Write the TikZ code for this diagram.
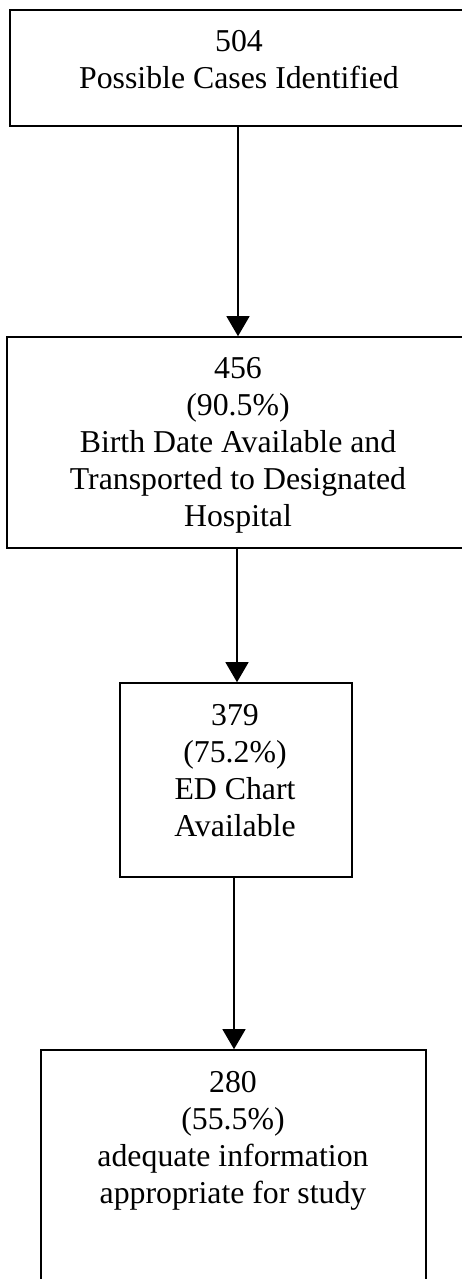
\documentclass[tikz,border=0pt]{standalone}
\usepackage{fontspec}
\setmainfont{Liberation Serif}
\usetikzlibrary{arrows.meta}
\tikzset{
  box/.style={draw, line width=1.6pt, rectangle, inner sep=0pt},
  txt/.style={align=center, inner sep=0pt, anchor=base, font=\fontsize{31.8pt}{37pt}\selectfont},
  flow/.style={line width=1.3pt, -{Triangle[length=20pt,width=23pt]}}
}
\begin{document}
\begin{tikzpicture}[x=1pt,y=-1pt]
\useasboundingbox (0,0) rectangle (461,1279);
\fill[white] (0,0) rectangle (461,1279);
\node[box, minimum width=456pt, minimum height=116pt] (b1) at (238,68) {};
\node[box, minimum width=462pt, minimum height=211pt] (b2) at (238,442.5) {};
\node[box, minimum width=232pt, minimum height=194pt] (b3) at (236,780) {};
\node[box, minimum width=385pt, minimum height=245pt] (b4) at (233.5,1172.5) {};
\node[txt] (t1) at (239,89) {504\\Possible Cases Identified};
\node[txt] (t2) at (238,526) {456\\(90.5\%)\\Birth Date Available and\\Transported to Designated\\Hospital};
\node[txt] (t3) at (235,836) {379\\(75.2\%)\\ED Chart\\Available};
\node[txt] (t4) at (233,1203) {280\\(55.5\%)\\adequate information\\appropriate for study};
\draw[flow] (b1.south) -- (b2.north);
\draw[flow] ([xshift=1pt]b3.north |- b2.south) -- ([xshift=1pt]b3.north);
\draw[flow] ([xshift=0.5pt]b4.north |- b3.south) -- ([xshift=0.5pt]b4.north);
\end{tikzpicture}
\end{document}
